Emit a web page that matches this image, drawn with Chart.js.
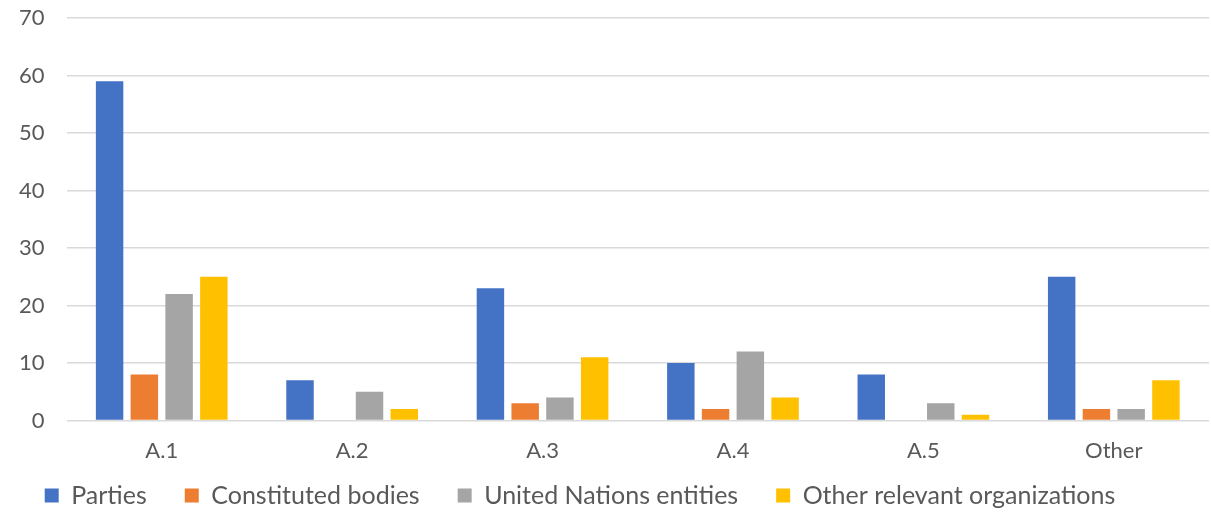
<!DOCTYPE html>
<html>
<head>
<meta charset="utf-8">
<script src="https://cdn.jsdelivr.net/npm/chart.js@4"></script>
<style>
  html, body { margin: 0; padding: 0; background: #fff; }
  #wrap { width: 1211px; height: 512px; }
</style>
</head>
<body>
<div id="wrap"><canvas id="chart"></canvas></div>
<script>
const categories = ['A.1', 'A.2', 'A.3', 'A.4', 'A.5', 'Other'];
const parties = [59, 7, 23, 10, 8, 25];
const constitutedBodies = [8, 0, 3, 2, 0, 2];
const unEntities = [22, 5, 4, 12, 3, 2];
const otherOrgs = [25, 2, 11, 4, 1, 7];
const yTicks = [0, 10, 20, 30, 40, 50, 60, 70];

const textColor = '#595959';
const tickFont = { family: 'Lato, "Noto Sans", sans-serif', size: 22 };
const legendFont = { family: 'Lato, "Noto Sans", sans-serif', size: 25 };
const yLabelGap = 22;

function series(label, data, color) {
    return {
        label,
        data,
        backgroundColor: color,
        borderWidth: 0,
        categoryPercentage: 0.73,
        barPercentage: 0.79
    };
}

// wide gaps between legend items but a short legend box:
// trim the reserved height and draw the row a little higher, unclipped
const legendSpacing = {
    id: 'legendSpacing',
    beforeInit(chart) {
        const legend = chart.legend;
        const fit = legend.fit;
        legend.fit = function () {
            fit.call(this);
            this.height -= 34;
        };
        legend.draw = function () {
            if (!this.options.display) return;
            const ctx = this.ctx;
            ctx.save();
            ctx.translate(-23, -28);
            this._draw();
            ctx.restore();
        };
    }
};

new Chart(document.getElementById('chart'), {
    type: 'bar',
    data: {
        labels: categories,
        datasets: [
            series('Parties', parties, '#4472C4'),
            series('Constituted bodies', constitutedBodies, '#ED7D31'),
            series('United Nations entities', unEntities, '#A5A5A5'),
            series('Other relevant organizations', otherOrgs, '#FFC000')
        ]
    },
    plugins: [legendSpacing],
    options: {
        responsive: true,
        maintainAspectRatio: false,
        animation: false,
        layout: { padding: { top: 18, left: -3, right: 2, bottom: 0 } },
        plugins: {
            tooltip: { enabled: false },
            legend: {
                position: 'bottom',
                labels: {
                    color: textColor,
                    font: legendFont,
                    boxWidth: 14,
                    boxHeight: 14,
                    padding: 38,
                    generateLabels(chart) {
                        return chart.data.datasets.map((ds, i) => ({
                            text: ds.label,
                            fillStyle: ds.backgroundColor,
                            strokeStyle: ds.backgroundColor,
                            lineWidth: 0,
                            hidden: false,
                            datasetIndex: i,
                            fontColor: textColor
                        }));
                    }
                }
            }
        },
        scales: {
            x: {
                grid: { display: false },
                border: { display: false },
                ticks: { color: textColor, font: tickFont, padding: 9 }
            },
            y: {
                min: 0,
                max: 70,
                afterBuildTicks(axis) {
                    axis.ticks = yTicks.map(v => ({ value: v }));
                },
                // the label gap also pads the top; keep only the half label height there
                afterFit(axis) {
                    axis.paddingTop -= yLabelGap;
                },
                grid: { color: '#D9D9D9', lineWidth: 1.5, drawTicks: false },
                border: { display: false },
                ticks: { color: textColor, font: tickFont, padding: yLabelGap }
            }
        }
    }
});
</script>
</body>
</html>
